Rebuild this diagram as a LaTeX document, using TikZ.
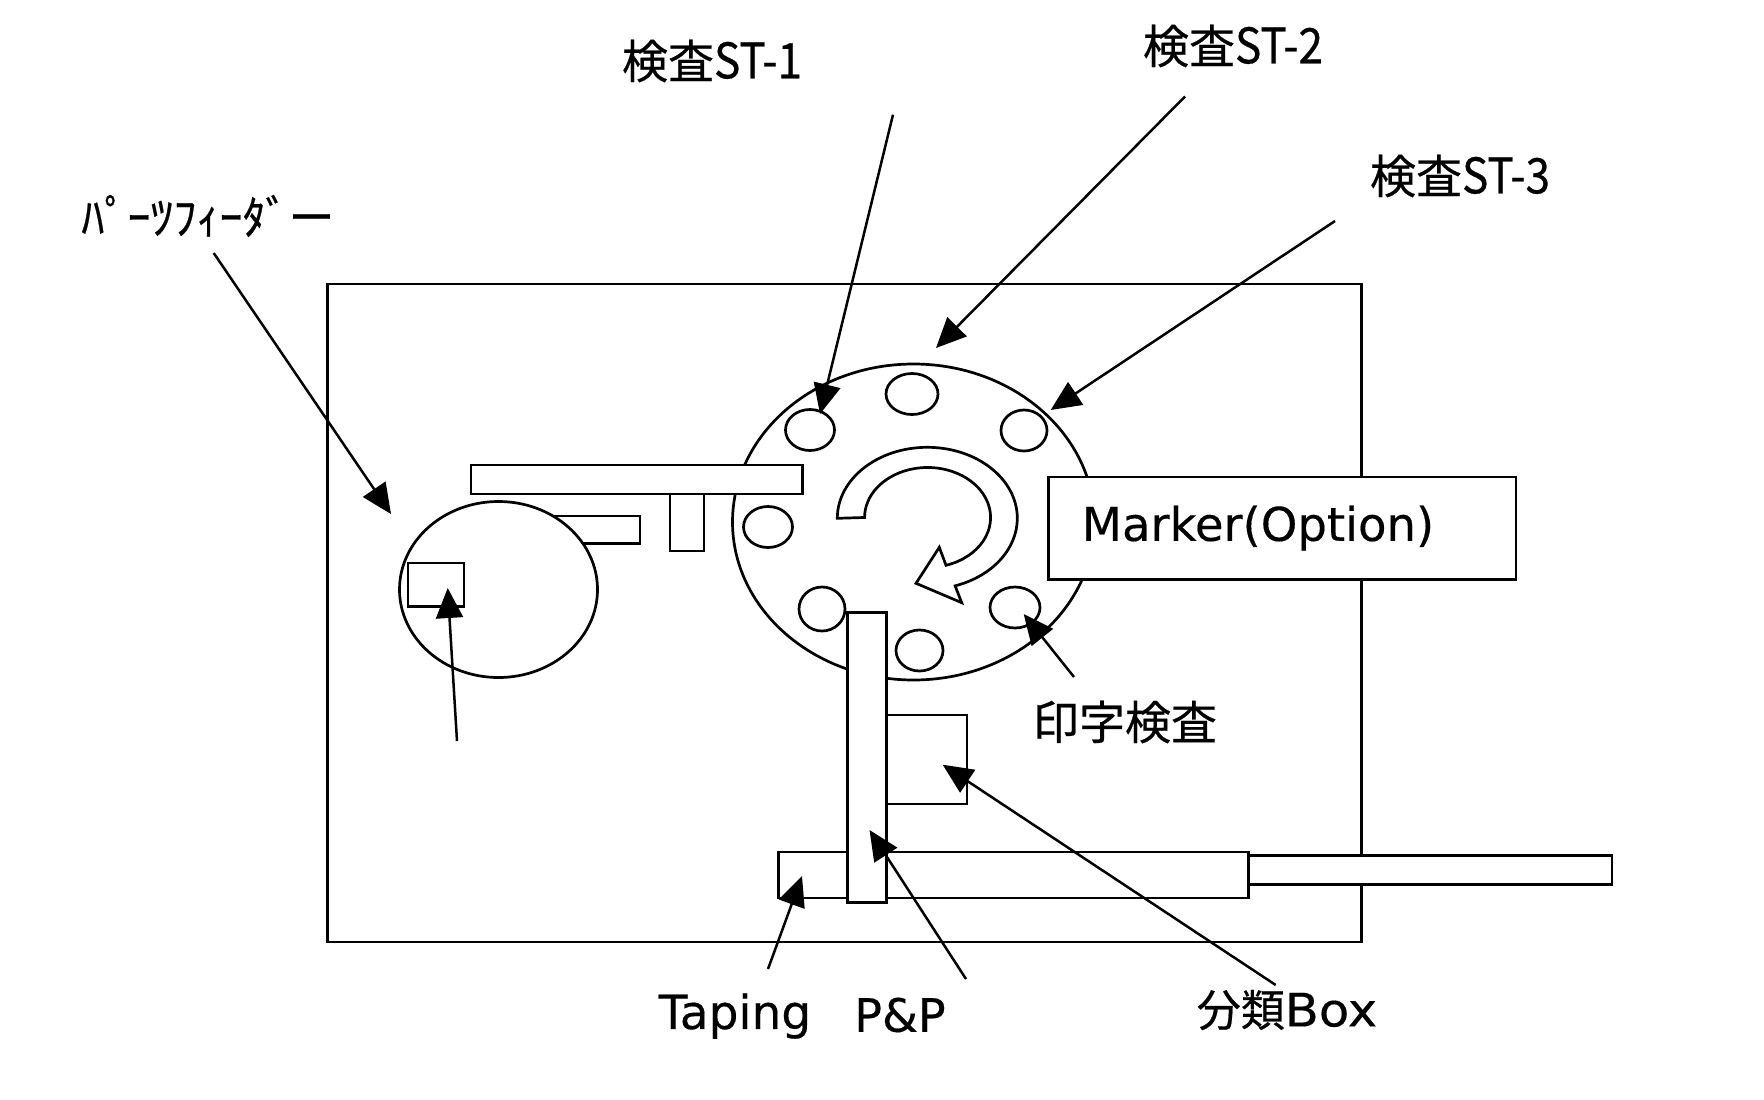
\documentclass[tikz,border=0pt]{standalone}
\usepackage{fontspec}
\usetikzlibrary{arrows.meta,shapes.geometric}
\newfontfamily\kan[FakeBold=0.5]{Noto Sans CJK JP}
\newfontfamily\hw[FakeStretch=0.9,FakeBold=0.5]{Noto Sans CJK JP}
\newfontfamily\lat[FakeBold=0.3]{DejaVu Sans}
\newfontfamily\latw[FakeStretch=1.08,FakeBold=0.3]{DejaVu Sans}
\tikzset{
  part/.style={draw=black,line width=2.9pt,fill=white,inner sep=0pt,outer sep=0pt},
  disc/.style={part,ellipse,line width=2.7pt},
  lead/.style={draw=black,line width=2.5pt,-{Triangle[length=30pt,width=27pt]}},
  jplabel/.style={font=\kan\fontsize{46}{46}\selectfont,inner sep=0pt,anchor=center},
  latlabel/.style={font=\lat\fontsize{47}{47}\selectfont,inner sep=0pt,anchor=center},
}
\begin{document}
\begin{tikzpicture}[x=1pt,y=-1pt]
\useasboundingbox (0,0) rectangle (1764,1100);
\fill[white] (0,0) rectangle (1764,1100);
% frame
\node[part,minimum width=1034pt,minimum height=658pt,anchor=north west] (frame) at (327.5,284) {};
% turntable
\node[disc,minimum width=362pt,minimum height=316pt] (table) at (913.5,522) {};
% holes
\node[disc,minimum width=49pt,minimum height=41pt] (h1) at (810,430) {};
\node[disc,minimum width=52pt,minimum height=41pt] (h2) at (912,394) {};
\node[disc,minimum width=46pt,minimum height=41pt] (h3) at (1024,430.5) {};
\node[disc,minimum width=49pt,minimum height=41pt] (h4) at (768,527) {};
\node[disc,minimum width=46pt,minimum height=44pt] (h5) at (822,609) {};
\node[disc,minimum width=47pt,minimum height=41pt] (h6) at (919.5,650.5) {};
\node[disc,minimum width=50pt,minimum height=41pt] (h7) at (1015,607.5) {};
% rotation arrow
\draw[line width=2.7pt,fill=white,line join=miter]
  (837.3,518.3) arc[start angle=180,end angle=-72,x radius=90pt,y radius=71pt]
  -- (961.7,602.7) -- (916,583.3) -- (939.3,547.3) -- (946,565.3)
  arc[start angle=-73,end angle=180,x radius=63pt,y radius=50pt] -- cycle;
% feeder parts
\node[part,minimum width=100pt,minimum height=27.6pt,anchor=north east] (chute) at (640,516) {};
\node[disc,minimum width=198pt,minimum height=176pt] (feeder) at (498.5,589.5) {};
\node[part,minimum width=56pt,minimum height=43.5pt,anchor=north west] (pocket) at (408,563) {};
\node[part,minimum width=34pt,minimum height=57pt,anchor=north west] (post) at (670,494) {};
\node[part,minimum width=331.6pt,minimum height=29pt,anchor=north west] (beam) at (471,465) {};
% output
\node[part,minimum width=363.3pt,minimum height=29pt,anchor=north west] (rod) at (1248.7,855.5) {};
\node[part,minimum width=470.3pt,minimum height=46pt,anchor=north west] (taping) at (778.4,852) {};
\node[part,minimum width=80.5pt,minimum height=89pt,anchor=north west] (sortbox) at (886.5,715) {};
\node[part,minimum width=39pt,minimum height=290pt,anchor=north west] (pp) at (847.6,612.4) {};
% marker
\node[part,minimum width=467.5pt,minimum height=102.5pt,anchor=north west] (marker) at (1048.5,477) {};
% labels
\node[jplabel] (st1) at (712,61) {検査{\hw\fontsize{49}{49}\selectfont ST-1}};
\node[jplabel] (st2) at (1233,46) {検査{\hw\fontsize{49}{49}\selectfont ST-2}};
\node[jplabel] (st3) at (1460,176) {検査{\hw\fontsize{49}{49}\selectfont ST-3}};
\node[jplabel] (pf) at (208,216) {ﾊﾟｰﾂﾌｨｰﾀﾞー};
\node[latlabel,font=\lat\fontsize{46.5}{46.5}\selectfont] (mk) at (1258,528) {Marker(Option)};
\node[jplabel] (ins) at (1125,722) {印字検査};
\node[latlabel] (tp) at (735,1016) {Taping};
\node[latlabel,font=\lat\fontsize{46}{46}\selectfont] (ppl) at (900,1015) {P\&P};
\node[jplabel,font=\kan\fontsize{44}{44}\selectfont] (bx) at (1287,1010) {分類{\latw\fontsize{46}{46}\selectfont Box}};
% leaders
\coordinate (a1) at (893,114.7);   \coordinate (t1) at (820,414);
\coordinate (a2) at (1185,96.5);   \coordinate (t2) at (936,348);
\coordinate (a3) at (1335,221);    \coordinate (t3) at (1050.7,410);
\coordinate (a4) at (213.7,253);   \coordinate (t4) at (391,514);
\coordinate (a5) at (457,741);     \coordinate (t5) at (447.7,588);
\coordinate (a6) at (1074,677);    \coordinate (t6) at (1023.7,614);
\coordinate (a7) at (768,969);     \coordinate (t7) at (802,876);
\coordinate (a8) at (966,979);     \coordinate (t8) at (869.5,830);
\coordinate (a9) at (1275.7,985);  \coordinate (t9) at (942.7,764.7);
\foreach \i in {1,...,9} \draw[lead] (a\i) -- (t\i);
\end{tikzpicture}
\end{document}
